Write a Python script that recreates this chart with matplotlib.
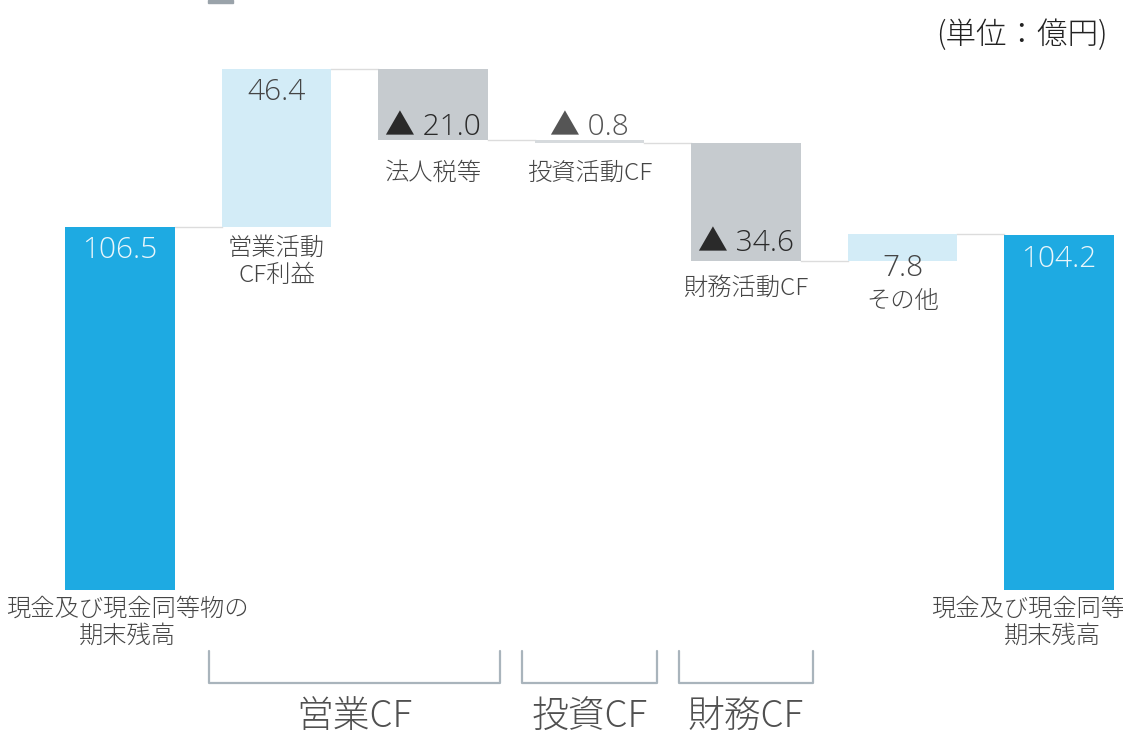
import numpy as np
import matplotlib.pyplot as plt
from matplotlib.patches import Rectangle

plt.rcParams['font.family'] = ['Noto Sans CJK JP', 'DejaVu Sans']

# -------------------------------
# data
# -------------------------------
start_value = 106.5
end_value = 104.2
deltas = [46.4, -21.0, -0.8, -34.6, 7.8]
value_labels = ["106.5", "46.4", "▲ 21.0", "▲ 0.8", "▲ 34.6", "7.8", "104.2"]
category_labels = ["現金及び現金同等物の\n期末残高", "営業活動\nCF利益", "法人税等",
                   "投資活動CF", "財務活動CF", "その他", "現金及び現金同等物の\n期末残高"]
groups = [("営業CF", 1, 2), ("投資CF", 3, 3), ("財務CF", 4, 4)]

# -------------------------------
# waterfall geometry
# -------------------------------
n = len(deltas) + 2
x = np.arange(n)
levels = start_value + np.cumsum(deltas)
prev = np.concatenate([[start_value], levels[:-1]])
bottoms = np.concatenate([[0], np.minimum(prev, levels), [0]])
heights = np.concatenate([[start_value], np.abs(deltas), [end_value]])
tops = bottoms + heights

blue = "#1EAAE2"
light_blue = "#D3ECF7"
gray = "#C6CBCF"
colors = [blue] + [light_blue if d > 0 else gray for d in deltas] + [blue]
colors[3] = "#D6DADD"
txt = "#454545"

fig = plt.figure(figsize=(11.23, 7.39), dpi=100)
ax = fig.add_axes([0, 0, 1, 1])
ax.set_xlim(-0.767, 6.409)
ax.set_ylim(-43.7, 173.0)
ax.axis("off")

width = 0.70
ax.bar(x, heights, bottom=bottoms, width=width, color=colors, zorder=2)

# connector lines
run = np.concatenate([[start_value], levels])
for i in range(n - 1):
    ax.plot([x[i] + width / 2, x[i + 1] - width / 2], [run[i], run[i]],
            color="#DCDCDC", lw=1.0, zorder=1)

# value labels (offsets in pixels)
val_anchor = [tops[0], tops[1], bottoms[2], tops[3], bottoms[4], tops[5], tops[6]]
val_off = [-23, -24, 13, 13, 18, -34, -25]
val_col = ["#EAF6FB", txt, "#2A2A2A", "#555555", "#2A2A2A", txt, "#EAF6FB"]
for i in range(n):
    ax.annotate(value_labels[i], (x[i], val_anchor[i]), xytext=(0, val_off[i]),
                textcoords="offset pixels", ha="center", va="center",
                fontsize=21.5, color=val_col[i], fontweight="light",
                family=["Open Sans", "Noto Sans CJK JP"], zorder=3)

# category labels (top of text offset below bar bottom)
cat_dx = [7, 0, 0, 0, 0, 0, -7]
cat_off = [-7, -9, -21, -18, -15, -28, -7]
for i in range(n):
    ax.annotate(category_labels[i], (x[i], bottoms[i]), xytext=(cat_dx[i], cat_off[i]),
                textcoords="offset pixels", ha="center", va="top",
                fontsize=17.5, color=txt, linespacing=1.1, fontweight="light")

# group brackets
for name, a, b in groups:
    x0, x1 = a - 0.43, b + 0.43
    ax.plot([x0, x0, x1, x1], [-17.9, -27.3, -27.3, -17.9], color="#A9B4BC",
            lw=1.6, solid_joinstyle="round", solid_capstyle="round")
    ax.text((x0 + x1) / 2, -37.2, name, ha="center", va="center",
            fontsize=26.5, color="#505050", fontweight="light")

fig.text(0.910, 0.953, "(単位：億円)", ha="center", va="center",
         fontsize=22, color="#222222", fontweight="light")

# clipped legend swatch at the top edge
fig.patches.append(Rectangle((208 / 1123, 1 - 3 / 739), 25 / 1123, 3 / 739,
                             transform=fig.transFigure, color="#9AA3AA"))

fig.savefig("out.png", dpi=100)
